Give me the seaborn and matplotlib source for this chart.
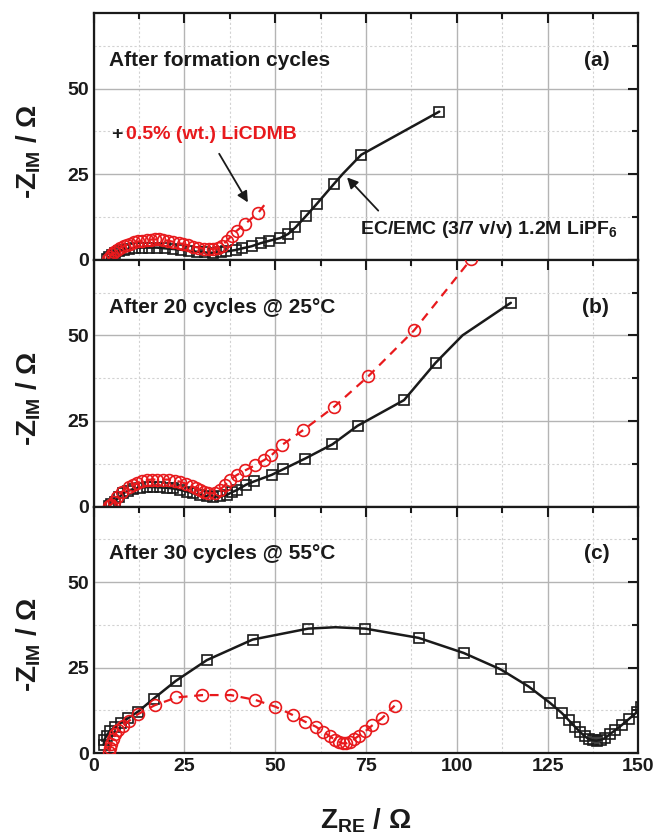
import matplotlib
matplotlib.use("Agg")
import matplotlib.pyplot as plt
import seaborn as sns
from matplotlib.ticker import MultipleLocator

# ---------------- data ----------------
# Panel (a): after formation cycles
a_base_x = [3.8, 4.3, 5.0, 5.9, 7.0, 8.3, 9.8, 11.5, 13.4, 15.4, 17.5, 19.6, 21.8, 24.0,
            26.2, 28.4, 30.6, 32.8, 35.0, 36.6, 39.1, 41.0, 43.5, 46.0, 48.4, 51.4, 53.6,
            55.6, 58.4, 61.5, 66.2, 68.6, 73.7, 95.2]
a_base_y = [0.2, 0.9, 1.5, 2.1, 2.6, 3.0, 3.3, 3.5, 3.6, 3.6, 3.6, 3.4, 3.2, 3.0,
            2.7, 2.4, 2.2, 2.1, 2.2, 2.5, 2.9, 3.4, 4.0, 4.9, 5.6, 6.4, 7.6,
            9.5, 12.7, 16.4, 22.2, 25.1, 30.7, 43.3]
a_base_nomark = [31]
a_add_x = [4.1, 4.5, 5.0, 5.7, 6.4, 7.3, 8.3, 9.2, 10.1, 11.2, 12.3, 13.4, 14.6, 15.8,
           16.9, 18.0, 19.2, 20.6, 22.0, 23.4, 24.7, 26.1, 27.5, 28.9, 30.3, 31.7, 33.0,
           34.2, 35.3, 36.7, 38.1, 39.4, 41.7, 45.4, 47.0]
a_add_y = [0.3, 0.9, 1.6, 2.2, 2.9, 3.5, 4.0, 4.4, 4.8, 5.1, 5.4, 5.6, 5.8, 5.95,
           6.0, 6.0, 5.8, 5.6, 5.3, 5.0, 4.6, 4.3, 3.9, 3.6, 3.3, 3.2, 3.2,
           3.6, 4.2, 5.6, 7.1, 8.5, 10.5, 13.8, 16.0]
a_add_nomark = [34]

# Panel (b): after 20 cycles @ 25 C
b_base_x = [4.2, 4.8, 5.9, 7.0, 8.2, 9.5, 11.0, 12.7, 14.6, 16.5, 18.4, 20.3, 22.0, 23.9,
            25.7, 27.5, 29.4, 31.2, 33.0, 34.8, 36.7, 38.1, 39.4, 42.0, 44.3, 49.1, 52.2,
            58.2, 65.8, 72.7, 85.5, 94.2, 101.6, 114.9]
b_base_y = [0.3, 0.8, 1.5, 2.7, 3.9, 4.6, 5.2, 5.5, 5.7, 5.7, 5.6, 5.5, 5.3, 4.9,
            4.4, 3.9, 3.4, 3.1, 2.9, 3.0, 3.4, 4.2, 4.8, 6.4, 7.4, 9.3, 10.9,
            14.0, 18.2, 23.6, 31.1, 42.0, 50.0, 59.5]
b_base_nomark = [32]
b_add_x = [4.3, 4.7, 5.6, 6.6, 7.9, 9.7, 10.8, 12.0, 13.4, 14.8, 16.1, 17.5, 19.1, 20.7,
           22.3, 23.8, 25.5, 27.1, 28.2, 29.3, 30.5, 31.6, 33.4, 34.8, 36.2, 37.6, 39.4,
           41.8, 44.5, 47.0, 49.0, 51.9, 57.8, 66.1, 75.7, 88.3, 104.0]
b_add_y = [0.2, 0.5, 1.5, 2.9, 4.4, 5.8, 6.3, 6.8, 7.4, 7.8, 7.9, 7.9, 7.9, 7.9,
           7.6, 7.3, 6.7, 6.0, 5.4, 4.8, 4.3, 3.9, 3.9, 4.9, 6.3, 7.8, 9.2,
           10.6, 12.1, 13.6, 15.0, 18.0, 22.4, 29.0, 38.1, 51.5, 72.3]
b_add_nomark = []

# Panel (c): after 30 cycles @ 55 C
c_base_x = [2.8, 3.0, 3.6, 4.5, 5.8, 7.5, 9.6, 12.3, 16.6, 22.6, 31.2, 43.8, 59.1, 66.6,
            74.8, 89.5, 101.9, 112.1, 119.8, 125.6, 128.9, 130.9, 132.6, 134.0, 135.2,
            136.3, 137.4, 138.5, 139.6, 140.8, 142.2, 143.7, 145.4, 147.4, 149.6, 150.8]
c_base_y = [2.5, 4.0, 5.2, 6.5, 7.7, 8.9, 10.3, 12.2, 16.0, 21.1, 27.2, 33.2, 36.4, 36.8,
            36.4, 33.7, 29.3, 24.5, 19.5, 14.8, 11.8, 9.6, 7.7, 6.2, 5.0,
            4.2, 3.8, 3.7, 3.9, 4.4, 5.6, 6.8, 8.2, 10.0, 12.0, 13.6]
c_base_nomark = [13]
c_add_x = [4.3, 4.6, 4.9, 5.3, 5.9, 6.8, 8.0, 9.8, 12.2, 16.8, 22.8, 30.0, 37.8, 44.5,
           50.1, 54.8, 58.3, 61.2, 63.3, 65.0, 66.4, 67.6, 68.6, 69.6, 70.6, 71.8, 73.2,
           74.8, 76.8, 79.4, 82.9]
c_add_y = [0.5, 1.5, 2.8, 4.2, 5.5, 6.8, 8.0, 9.5, 11.4, 14.0, 16.3, 17.0, 17.0, 15.6,
           13.6, 11.2, 9.2, 7.8, 6.3, 5.0, 4.0, 3.3, 2.9, 2.9, 3.3, 4.2, 5.2,
           6.4, 8.2, 10.2, 13.9]
c_add_nomark = []

panel_titles = ["After formation cycles", "After 20 cycles @ 25°C", "After 30 cycles @ 55°C"]
panel_tags = ["(a)", "(b)", "(c)"]
x_ticks = [0, 25, 50, 75, 100, 125, 150]
y_ticks = [0, 25, 50]

# ---------------- style ----------------
sns.set_theme(style="white")
plt.rcParams["font.family"] = ["Liberation Sans", "DejaVu Sans"]
plt.rcParams["font.weight"] = "bold"
plt.rcParams["mathtext.fontset"] = "custom"
plt.rcParams["mathtext.rm"] = "Liberation Sans:bold"
plt.rcParams["mathtext.bf"] = "Liberation Sans:bold"
plt.rcParams["mathtext.it"] = "Liberation Sans:bold"
plt.rcParams["mathtext.default"] = "bf"

RED = "#e8191c"

fig, axes = plt.subplots(3, 1, figsize=(6.59, 8.36), dpi=100, sharex=True)
fig.subplots_adjust(left=0.1419, right=0.9686, top=0.9841, bottom=0.0989, hspace=0)

panels = [
    (a_base_x, a_base_y, a_base_nomark, a_add_x, a_add_y, a_add_nomark),
    (b_base_x, b_base_y, b_base_nomark, b_add_x, b_add_y, b_add_nomark),
    (c_base_x, c_base_y, c_base_nomark, c_add_x, c_add_y, c_add_nomark),
]

for i, (ax, (bx, by, bnm, rx, ry, rnm)) in enumerate(zip(axes, panels)):
    bmark = [k for k in range(len(bx)) if k not in bnm]
    rmark = [k for k in range(len(rx)) if k not in rnm]
    sns.lineplot(x=bx, y=by, sort=False, estimator=None, ax=ax, color="k", lw=1.8,
                 marker="s", markersize=7.5, markerfacecolor="none",
                 markeredgecolor="k", markeredgewidth=1.2, markevery=bmark, zorder=3)
    sns.lineplot(x=rx, y=ry, sort=False, estimator=None, ax=ax, color=RED, lw=1.6,
                 linestyle=(0, (4, 3)), marker="o", markersize=8.5,
                 markerfacecolor="none", markeredgecolor=RED, markeredgewidth=1.2,
                 markevery=rmark, zorder=4)

    ax.set_xlim(0, 150)
    ax.set_ylim(0, 72)
    ax.xaxis.set_major_locator(MultipleLocator(25))
    ax.xaxis.set_minor_locator(MultipleLocator(12.5))
    ax.yaxis.set_major_locator(MultipleLocator(25))
    ax.yaxis.set_minor_locator(MultipleLocator(12.5))
    ax.set_axisbelow(True)
    ax.grid(which="major", color="#b4b4b4", lw=1.0, ls="-")
    ax.grid(which="minor", color="#d2d2d2", lw=0.8, ls=(0, (2, 2)))
    ax.tick_params(which="both", direction="in", top=True, right=True, width=1.5,
                   labelsize=14, colors="k")
    ax.tick_params(which="major", length=7)
    ax.tick_params(which="minor", length=4)
    for lab in ax.get_xticklabels() + ax.get_yticklabels():
        lab.set_fontweight("bold")
    for sp in ax.spines.values():
        sp.set_linewidth(1.6)
        sp.set_color("k")

    ax.set_ylabel("-Z$_{IM}$ / Ω", fontsize=20, fontweight="bold", color="k")
    ax.yaxis.set_label_coords(-0.092, 0.44)

    ax.text(4.3, 58.2, panel_titles[i], fontsize=15, fontweight="bold", ha="left",
            va="center", color="k")
    ax.text(142, 58.2, panel_tags[i], fontsize=15, fontweight="bold", ha="right",
            va="center", color="k")

axes[-1].set_xticks(x_ticks)
axes[-1].set_xticklabels([str(t) for t in x_ticks], fontweight="bold")
axes[-1].set_xlabel("Z$_{RE}$ / Ω", fontsize=20, fontweight="bold", color="k")
axes[-1].xaxis.set_label_coords(0.5, -0.215)

# annotations in panel (a)
ax = axes[0]
ax.text(4.8, 36.7, "+", fontsize=14, fontweight="bold", ha="left", va="center", color="k")
ax.text(9.0, 36.7, "0.5% (wt.) LiCDMB", fontsize=14, fontweight="bold", ha="left",
        va="center", color=RED)
ax.annotate("", xy=(42.5, 16.8), xytext=(34.6, 31.0),
            arrowprops=dict(arrowstyle="-|>", color="k", lw=1.3, mutation_scale=16,
                            shrinkA=0, shrinkB=0))
ax.annotate("", xy=(69.8, 24.1), xytext=(78.4, 14.4),
            arrowprops=dict(arrowstyle="-|>", color="k", lw=1.3, mutation_scale=16,
                            shrinkA=0, shrinkB=0))
ax.text(73.5, 9.0, "EC/EMC (3/7 v/v) 1.2M LiPF$_6$", fontsize=14, fontweight="bold",
        ha="left", va="center", color="k")

fig.savefig("out.png", dpi=100)
